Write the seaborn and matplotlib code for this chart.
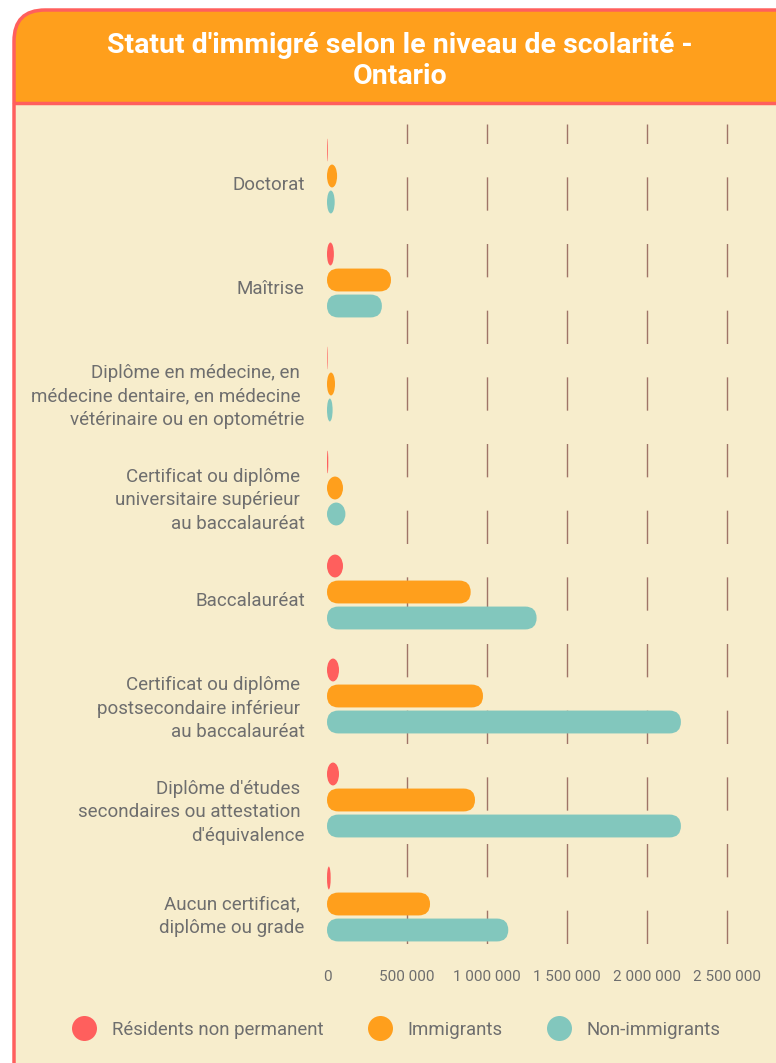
import matplotlib
matplotlib.use("Agg")
import matplotlib.pyplot as plt
import matplotlib.transforms as mtransforms
from matplotlib.patches import FancyBboxPatch, Ellipse, Rectangle
from matplotlib.lines import Line2D
import seaborn as sns
import pandas as pd
import numpy as np

# données (Ontario)
niveaux = [
    "Doctorat",
    "Maîtrise",
    "Diplôme en médecine, en \nmédecine dentaire, en médecine \nvétérinaire ou en optométrie",
    "Certificat ou diplôme \nuniversitaire supérieur \nau baccalauréat",
    "Baccalauréat",
    "Certificat ou diplôme \npostsecondaire inférieur \nau baccalauréat",
    "Diplôme d'études \nsecondaires ou attestation \nd'équivalence",
    "Aucun certificat, \ndiplôme ou grade",
]
statuts = ["Résidents non permanent", "Immigrants", "Non-immigrants"]
residents_np = [5000, 43000, 4000, 8000, 100000, 75000, 75000, 23000]
immigrants = [63000, 400000, 50000, 100000, 898000, 975000, 925000, 644000]
non_immigrants = [48000, 343000, 35000, 115000, 1310000, 2212000, 2212000, 1133000]
x_ticks = [0, 500000, 1000000, 1500000, 2000000, 2500000]
x_labels = ["0", "500 000", "1 000 000", "1 500 000", "2 000 000", "2 500 000"]

couleurs = ["#ff5f5d", "#ff9f1c", "#82c7bd"]
fond = "#f7edcc"
bordure = "#ff5f5d"
gris = "#6e6e6e"

df = pd.DataFrame({
    "niveau": niveaux * 3,
    "statut": np.repeat(statuts, len(niveaux)),
    "valeur": residents_np + immigrants + non_immigrants,
})

sns.set_style("white")
plt.rcParams["font.family"] = ["Roboto", "DejaVu Sans"]
plt.rcParams["lines.scale_dashes"] = False

W, H = 776, 1063
fig = plt.figure(figsize=(W / 100, H / 100), dpi=100)
fig.patch.set_facecolor("white")


def fx(px):
    return px / W


def fy(py):
    return (H - py) / H


# carte : fond, bandeau du titre, bordure
card = FancyBboxPatch((fx(14), fy(1120)), fx(830), (1110) / H,
                      boxstyle="round,pad=0,rounding_size=0.04",
                      mutation_aspect=W / H,
                      transform=fig.transFigure, facecolor="#ff9f1c",
                      edgecolor="none", zorder=0)
fig.patches.append(card)
fig.patches.append(Rectangle((fx(14), 0), fx(800), fy(103), transform=fig.transFigure,
                             facecolor=fond, edgecolor="none", zorder=0.5))
fig.add_artist(Line2D([fx(14), 1], [fy(102.5), fy(102.5)], transform=fig.transFigure,
                      color=bordure, lw=2.5, zorder=1))
edge = FancyBboxPatch((fx(14), fy(1120)), fx(830), (1110) / H,
                      boxstyle="round,pad=0,rounding_size=0.04",
                      mutation_aspect=W / H,
                      transform=fig.transFigure, facecolor="none",
                      edgecolor=bordure, lw=2.5, zorder=1)
fig.patches.append(edge)

fig.text(fx(400), fy(61), "Statut d'immigré selon le niveau de scolarité -\nOntario",
         ha="center", va="center", color="white", fontsize=20.5, fontweight="bold",
         linespacing=1.22, zorder=2)

# zone du graphique
x_max = (W - 327) * 6250
ax = fig.add_axes([fx(327), fy(956), fx(W - 327), (956 - 124) / H])
ax.set_zorder(2)
ax.set_facecolor("none")
sns.barplot(data=df, y="niveau", x="valeur", hue="statut", orient="h",
            palette=couleurs, width=0.75, gap=0.12, ax=ax, legend=False,
            saturation=1, zorder=3)
ax.set_xlim(0, x_max)
ax.set_ylim(7.5, -0.5)
ax.set_xlabel("")
ax.set_ylabel("")
for s in ax.spines.values():
    s.set_visible(False)

ax.set_xticks(x_ticks)
ax.set_xticklabels(x_labels)
ax.tick_params(axis="x", length=0, pad=10, labelsize=11, labelcolor=gris)
ax.tick_params(axis="y", length=0, pad=16, labelsize=13.5, labelcolor=gris)
for lab in ax.get_yticklabels():
    lab.set_linespacing(1.42)
    lab.set_transform(lab.get_transform() +
                      mtransforms.ScaledTranslation(0, -0.075, fig.dpi_scale_trans))

ax.xaxis.grid(True, color="#a07468", lw=1.0, linestyle=(39, (24, 24)))
ax.set_axisbelow(True)
ax.get_xgridlines()[0].set_visible(False)

# barres arrondies à partir des rectangles de seaborn
fig.canvas.draw()
for bar in list(ax.patches):
    x0, y0 = bar.get_x(), bar.get_y()
    w, h = bar.get_width(), bar.get_height()
    col = bar.get_facecolor()
    bar.remove()
    p0 = ax.transData.transform((x0, y0))
    p1 = ax.transData.transform((x0 + w, y0 + h))
    wpx, hpx = abs(p1[0] - p0[0]), abs(p1[1] - p0[1])
    if wpx <= hpx:
        ax.add_patch(Ellipse((x0 + w / 2, y0 + h / 2), w, h, facecolor=col,
                             edgecolor="none", zorder=3))
    else:
        xu = w / wpx
        yu = abs(h) / hpx
        ax.add_patch(FancyBboxPatch((x0, min(y0, y0 + h)), w, abs(h),
                                    boxstyle=f"round,pad=0,rounding_size={hpx / 2 * xu}",
                                    mutation_aspect=yu / xu, facecolor=col,
                                    edgecolor="none", zorder=3))

# légende
handles = [Line2D([], [], ls="none", marker="o", markersize=18, markerfacecolor=c,
                  markeredgecolor="none") for c in couleurs]
fig.legend(handles, statuts, loc="center", bbox_to_anchor=(fx(397), fy(1030)),
           ncol=3, frameon=False, fontsize=13.4, labelcolor=gris,
           handletextpad=0.9, columnspacing=2.4, handlelength=1.2)

fig.savefig("out.png", dpi=100, facecolor=fig.get_facecolor())
